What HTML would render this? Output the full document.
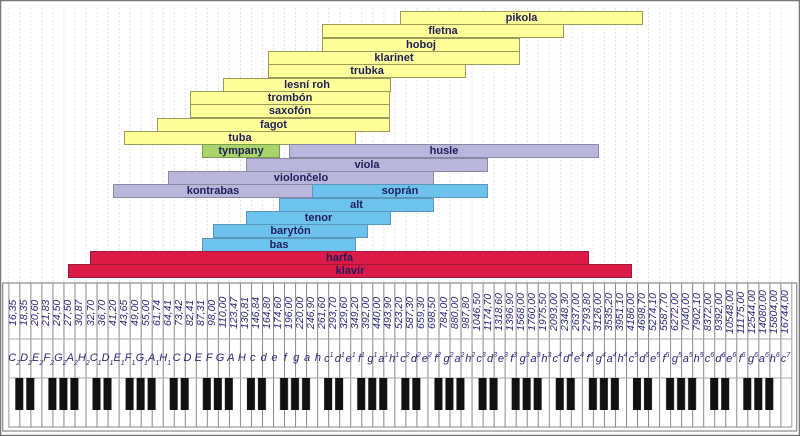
<!DOCTYPE html>
<html><head><meta charset="utf-8"><style>
html,body{margin:0;padding:0;background:#fff;}
#w{position:relative;width:800px;height:436px;overflow:hidden;background:#fff;font-family:"Liberation Sans",sans-serif;}
.b{position:absolute;height:12px;border:1px solid #6e6e4a;font-weight:bold;font-size:11px;line-height:12px;text-align:center;color:#1e1e5a;box-sizing:content-box;}
.y{background:#ffff99;border-color:#9a9a5a;}
.p{background:#b8b6da;border-color:#8a88a0;}
.c{background:#6ec3ee;border-color:#5a96b8;}
.r{background:#dc1a48;border-color:#a01838;}
.g{background:#a8d46a;border-color:#7a9a50;}
#fr{position:absolute;left:8.3px;top:286px;width:783.1px;height:53px;display:flex;}
#fr span{flex:1;writing-mode:vertical-rl;transform:rotate(180deg);text-align:center;font-size:10.5px;font-style:italic;color:#2a2a7a;line-height:11px;white-space:nowrap;}
#nr{position:absolute;left:8.3px;top:352px;width:783.1px;height:22px;display:flex;}
#nr span{flex:1;text-align:center;font-size:11px;font-style:italic;color:#2a2a7a;white-space:nowrap;}
#nr sub{font-size:7px;vertical-align:-4px;}
#nr sup{font-size:7px;vertical-align:5px;}
</style></head><body><div id="w">
<svg width="800" height="436" style="position:absolute;left:0;top:0">
<defs>
<pattern id="gd" x="8.3" y="0" width="11.03" height="4" patternUnits="userSpaceOnUse"><rect x="0" y="0" width="1" height="2" fill="#e2e2e2"/></pattern>
<pattern id="kl" x="8.3" y="0" width="11.03" height="10" patternUnits="userSpaceOnUse"><rect x="0" y="0" width="1" height="10" fill="#888"/></pattern>
<pattern id="bk" x="8.3" y="0" width="77.21" height="40" patternUnits="userSpaceOnUse">
<rect x="7" y="0" width="8" height="40" fill="#111"/><rect x="18" y="0" width="8" height="40" fill="#111"/>
<rect x="40.1" y="0" width="8" height="40" fill="#111"/><rect x="51.1" y="0" width="8" height="40" fill="#111"/><rect x="62.1" y="0" width="8" height="40" fill="#111"/>
</pattern>
</defs>
<rect x="0.5" y="0.5" width="799" height="435" fill="none" stroke="#777" stroke-width="1.5"/>
<rect x="8.3" y="8" width="783" height="275" fill="url(#gd)"/>
<rect x="2.7" y="283" width="794" height="148" fill="#fff" stroke="#888" stroke-width="1.2"/>
<rect x="8.3" y="283" width="784" height="144" fill="url(#kl)"/>
<line x1="8.3" y1="339" x2="791.4" y2="339" stroke="#aaa"/>
<line x1="8.3" y1="378" x2="791.4" y2="378" stroke="#aaa"/>
<line x1="8.3" y1="427" x2="791.4" y2="427" stroke="#888"/>
<rect x="8.3" y="378" width="772" height="32" fill="url(#bk)"/>
</svg>
<div class="b y" style="left:400px;top:11px;width:241px">pikola</div>
<div class="b y" style="left:322px;top:24px;width:240px">fletna</div>
<div class="b y" style="left:322px;top:38px;width:196px">hoboj</div>
<div class="b y" style="left:268px;top:51px;width:250px">klarinet</div>
<div class="b y" style="left:268px;top:64px;width:196px">trubka</div>
<div class="b y" style="left:223px;top:78px;width:166px">lesní roh</div>
<div class="b y" style="left:190px;top:91px;width:198px">trombón</div>
<div class="b y" style="left:190px;top:104px;width:198px">saxofón</div>
<div class="b y" style="left:157px;top:118px;width:231px">fagot</div>
<div class="b y" style="left:124px;top:131px;width:230px">tuba</div>
<div class="b g" style="left:202px;top:144px;width:76px">tympany</div>
<div class="b p" style="left:289px;top:144px;width:308px">husle</div>
<div class="b p" style="left:246px;top:158px;width:240px">viola</div>
<div class="b p" style="left:168px;top:171px;width:264px">violončelo</div>
<div class="b p" style="left:113px;top:184px;width:198px">kontrabas</div>
<div class="b c" style="left:312px;top:184px;width:174px">soprán</div>
<div class="b c" style="left:279px;top:198px;width:153px">alt</div>
<div class="b c" style="left:246px;top:211px;width:143px">tenor</div>
<div class="b c" style="left:213px;top:224px;width:153px">barytón</div>
<div class="b c" style="left:202px;top:238px;width:152px">bas</div>
<div class="b r" style="left:90px;top:251px;width:497px">harfa</div>
<div class="b r" style="left:68px;top:264px;width:562px">klavír</div>
<div id="fr"><span>16,35</span><span>18,35</span><span>20,60</span><span>21,83</span><span>24,50</span><span>27,50</span><span>30,87</span><span>32,70</span><span>36,70</span><span>41,20</span><span>43,65</span><span>49,00</span><span>55,00</span><span>61,74</span><span>64,41</span><span>73,42</span><span>82,41</span><span>87,31</span><span>98,00</span><span>110,00</span><span>123,47</span><span>130,81</span><span>146,84</span><span>164,80</span><span>174,60</span><span>196,00</span><span>220,00</span><span>246,90</span><span>261,60</span><span>293,70</span><span>329,60</span><span>349,20</span><span>392,00</span><span>440,00</span><span>493,90</span><span>523,20</span><span>587,30</span><span>659,30</span><span>698,50</span><span>784,00</span><span>880,00</span><span>987,80</span><span>1046,50</span><span>1174,70</span><span>1318,60</span><span>1396,90</span><span>1568,00</span><span>1760,00</span><span>1975,50</span><span>2093,00</span><span>2348,30</span><span>2637,00</span><span>2793,80</span><span>3126,00</span><span>3535,20</span><span>3951,10</span><span>4186,00</span><span>4698,70</span><span>5274,10</span><span>5587,70</span><span>6272,00</span><span>7040,00</span><span>7902,10</span><span>8372,00</span><span>9392,00</span><span>10548,00</span><span>11175,00</span><span>12544,00</span><span>14080,00</span><span>15804,00</span><span>16744,00</span></div>
<div id="nr"><span>C<sub>2</sub></span><span>D<sub>2</sub></span><span>E<sub>2</sub></span><span>F<sub>2</sub></span><span>G<sub>2</sub></span><span>A<sub>2</sub></span><span>H<sub>2</sub></span><span>C<sub>1</sub></span><span>D<sub>1</sub></span><span>E<sub>1</sub></span><span>F<sub>1</sub></span><span>G<sub>1</sub></span><span>A<sub>1</sub></span><span>H<sub>1</sub></span><span>C</span><span>D</span><span>E</span><span>F</span><span>G</span><span>A</span><span>H</span><span>c</span><span>d</span><span>e</span><span>f</span><span>g</span><span>a</span><span>h</span><span>c<sup>1</sup></span><span>d<sup>1</sup></span><span>e<sup>1</sup></span><span>f<sup>1</sup></span><span>g<sup>1</sup></span><span>a<sup>1</sup></span><span>h<sup>1</sup></span><span>c<sup>2</sup></span><span>d<sup>2</sup></span><span>e<sup>2</sup></span><span>f<sup>2</sup></span><span>g<sup>2</sup></span><span>a<sup>2</sup></span><span>h<sup>2</sup></span><span>c<sup>3</sup></span><span>d<sup>3</sup></span><span>e<sup>3</sup></span><span>f<sup>3</sup></span><span>g<sup>3</sup></span><span>a<sup>3</sup></span><span>h<sup>3</sup></span><span>c<sup>4</sup></span><span>d<sup>4</sup></span><span>e<sup>4</sup></span><span>f<sup>4</sup></span><span>g<sup>4</sup></span><span>a<sup>4</sup></span><span>h<sup>4</sup></span><span>c<sup>5</sup></span><span>d<sup>5</sup></span><span>e<sup>5</sup></span><span>f<sup>5</sup></span><span>g<sup>5</sup></span><span>a<sup>5</sup></span><span>h<sup>5</sup></span><span>c<sup>6</sup></span><span>d<sup>6</sup></span><span>e<sup>6</sup></span><span>f<sup>6</sup></span><span>g<sup>6</sup></span><span>a<sup>6</sup></span><span>h<sup>6</sup></span><span>c<sup>7</sup></span></div>
</div></body></html>
